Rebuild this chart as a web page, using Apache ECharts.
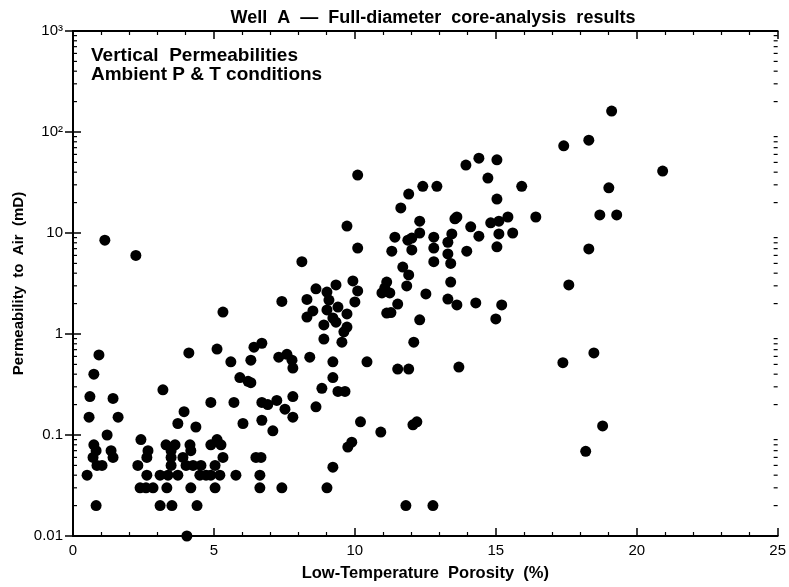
<!DOCTYPE html>
<html>
<head>
<meta charset="utf-8">
<script src="https://cdn.jsdelivr.net/npm/echarts@6/dist/echarts.min.js"></script>
<style>html,body{margin:0;padding:0;background:#fff}#c{width:789px;height:587px}</style>
</head>
<body>
<div id="c"></div>
<script>
// ---- data ----
const porosity = [
  0.50,0.60,0.57,0.74,0.92,0.82,1.42,1.60,1.21,1.35,1.42,0.74,0.82,0.71,0.85,1.03,1.13,2.23,
  2.41,2.66,2.62,2.30,2.62,2.38,2.59,2.84,3.19,3.09,3.33,3.09,3.51,3.30,3.62,3.48,3.48,3.48,
  3.37,3.72,3.90,3.72,3.94,4.11,4.36,4.15,4.18,4.01,4.26,4.54,4.18,4.40,4.04,4.50,4.72,4.89,
  5.04,4.89,5.11,5.25,5.32,5.04,5.21,4.89,5.11,5.78,5.71,6.03,5.60,5.92,6.21,6.31,6.31,6.42,
  6.70,6.70,6.91,6.70,7.09,6.49,6.67,6.63,6.63,5.32,7.30,7.59,7.77,7.80,7.23,7.52,7.80,7.80,
  7.41,7.41,8.30,8.62,9.01,9.08,9.01,9.33,9.40,9.93,10.1,10.0,9.72,8.51,8.30,8.90,9.22,9.33,
  9.72,9.61,8.90,9.54,8.40,9.22,10.43,9.22,8.83,9.40,9.65,8.62,10.2,10.92,12.06,12.20,9.89,
  9.75,9.22,9.01,11.81,12.77,8.12,9.72,10.1,10.1,11.70,11.91,11.13,11.06,10.96,11.24,11.84,
  11.52,11.13,11.28,12.30,12.09,11.52,11.91,11.31,11.42,12.02,11.88,12.02,12.30,12.30,11.63,
  11.91,12.41,12.91,12.80,12.80,12.80,13.44,13.30,13.30,13.40,13.55,13.62,14.11,14.40,13.97,
  14.82,15.11,15.43,15.11,15.60,15.04,15.04,14.72,13.94,14.40,15.04,15.92,16.42,13.40,12.52,
  13.30,13.62,14.29,15.21,15.00,13.69,19.11,18.30,17.41,20.92,19.01,18.69,19.29,18.30,17.59,
  18.48,17.38,18.79,18.19
];
const permeability = [
  0.04,0.24,0.15,0.40,0.62,0.02,0.23,0.15,0.10,0.07,0.06,0.08,0.07,0.06,0.05,0.05,8.5,6.0,
  0.09,0.07,0.06,0.05,0.04,0.03,0.03,0.03,0.28,0.04,0.03,0.02,0.02,0.08,0.08,0.07,0.06,0.05,
  0.04,0.04,0.06,0.13,0.17,0.65,0.12,0.08,0.07,0.05,0.05,0.05,0.03,0.02,0.01,0.04,0.04,0.04,
  0.05,0.08,0.09,0.08,0.06,0.03,0.04,0.21,0.71,0.04,0.21,0.13,0.53,0.37,0.34,0.33,0.55,0.74,
  0.81,0.21,0.20,0.14,0.11,0.06,0.06,0.04,0.03,1.65,0.59,0.63,0.55,0.46,0.22,0.18,0.15,0.24,
  0.03,2.1,2.2,2.8,2.6,2.17,1.73,3.06,1.85,3.35,2.67,2.08,1.58,1.69,1.47,1.23,1.44,1.31,
  1.17,1.05,0.89,0.83,0.59,0.53,0.53,0.37,0.29,0.27,0.27,0.19,0.135,0.107,0.126,0.135,0.085,
  0.076,0.048,0.03,0.02,0.02,5.2,11.7,37.5,7.1,4.6,3.84,3.27,2.85,2.55,2.55,2.99,
  1.98,1.61,1.63,1.38,0.83,0.45,0.45,6.6,9.1,6.8,8.5,8.9,13.1,10,17.7,
  24.3,29,29,9.1,7.1,5.2,9.8,8.1,6.2,5.0,13.8,14.4,11.5,9.3,6.6,
  12.6,13.1,14.4,9.8,10,7.3,21.7,35,47,55,53,29,14.4,3.27,2.49,
  2.22,1.94,2.03,1.94,1.41,0.47,161,83,73,41,28,15.1,15.1,6.95,3.06,
  0.65,0.52,0.123,0.069
];
const xTicks = [0, 5, 10, 15, 20, 25];
const yTickLabels = {0.01: '0.01', 0.1: '0.1', 1: '1', 10: '10', 100: '10²', 1000: '10³'};
const titleText = 'Well  A  —  Full-diameter  core-analysis  results';
const noteText = 'Vertical  Permeabilities\nAmbient P & T conditions';
const xName = 'Low-Temperature  Porosity  (%)';
const yName = 'Permeability  to  Air  (mD)';

const X_MIN = xTicks[0], X_MAX = xTicks[xTicks.length - 1];
const Y_MIN = 0.01, Y_MAX = 1000;

// minor log ticks (2..9 in each decade) for the left and right frames
const minorY = [];
for (let d = Y_MIN; d < Y_MAX; d *= 10) {
  for (let k = 2; k <= 9; k++) minorY.push([+(k * d).toPrecision(3)]);
}

const points = porosity.map((x, i) => [x, permeability[i]]);
const FONT = '"Liberation Sans", Arial, Helvetica, sans-serif';
const INK = '#000';

const chart = echarts.init(document.getElementById('c'), null, {renderer: 'canvas'});

const xAxisBase = {
  type: 'value', min: X_MIN, max: X_MAX, interval: 5,
  axisLine: {show: true, lineStyle: {color: INK, width: 2}},
  axisTick: {show: true, inside: true, length: 8, lineStyle: {color: INK, width: 1.5}},
  minorTick: {show: true, splitNumber: 5, length: 4, lineStyle: {color: INK, width: 1.2}},
  splitLine: {show: false}, minorSplitLine: {show: false}
};
const yAxisBase = {
  type: 'log', logBase: 10, min: Y_MIN, max: Y_MAX,
  axisLine: {show: true, lineStyle: {color: INK, width: 2}},
  axisTick: {show: true, inside: true, length: 8, lineStyle: {color: INK, width: 1.5}},
  splitLine: {show: false}
};

chart.setOption({
  animation: false,
  backgroundColor: '#fff',
  title: [
    {text: titleText, left: 428, top: 4, textAlign: 'center',
     textStyle: {fontFamily: FONT, fontSize: 18, fontWeight: 'bold', color: INK}},
    {text: noteText, left: 86, top: 41,
     textStyle: {fontFamily: FONT, fontSize: 19, fontWeight: 'bold', color: INK, lineHeight: 19}}
  ],
  grid: {left: 73, right: 11, top: 31, bottom: 51, containLabel: false},
  xAxis: [
    Object.assign({}, xAxisBase, {
      position: 'bottom',
      name: xName, nameLocation: 'middle', nameGap: 29,
      nameTextStyle: {fontFamily: FONT, fontSize: 16.5, fontWeight: 'bold', color: INK},
      axisLabel: {show: true, margin: 7, fontFamily: FONT, fontSize: 15, color: INK}
    }),
    Object.assign({}, xAxisBase, {position: 'top', axisLabel: {show: false}})
  ],
  yAxis: [
    Object.assign({}, yAxisBase, {
      position: 'left',
      name: yName, nameLocation: 'middle', nameGap: 47, nameRotate: 90,
      nameMoveOverlap: false,
      nameTextStyle: {fontFamily: FONT, fontSize: 15, fontWeight: 'bold', color: INK},
      axisLabel: {show: true, margin: 10, fontFamily: FONT, fontSize: 15, color: INK,
        formatter: v => yTickLabels[+v.toPrecision(3)] || ''}
    }),
    Object.assign({}, yAxisBase, {position: 'right', axisLabel: {show: false}})
  ],
  series: [
    {
      type: 'custom', xAxisIndex: 0, yAxisIndex: 0, silent: true, z: 5,
      data: minorY, encode: {y: 0},
      renderItem: function (params, api) {
        const v = api.value(0);
        const l = api.coord([X_MIN, v]);
        const r = api.coord([X_MAX, v]);
        const st = {stroke: INK, lineWidth: 1.2};
        return {type: 'group', children: [
          {type: 'line', shape: {x1: l[0], y1: l[1], x2: l[0] + 4, y2: l[1]}, style: st},
          {type: 'line', shape: {x1: r[0] - 4, y1: r[1], x2: r[0], y2: r[1]}, style: st}
        ]};
      }
    },
    {
      type: 'scatter', xAxisIndex: 0, yAxisIndex: 0,
      data: points, symbol: 'circle', symbolSize: 11,
      itemStyle: {color: INK, opacity: 1}, z: 3
    }
  ]
});
</script>
</body>
</html>
